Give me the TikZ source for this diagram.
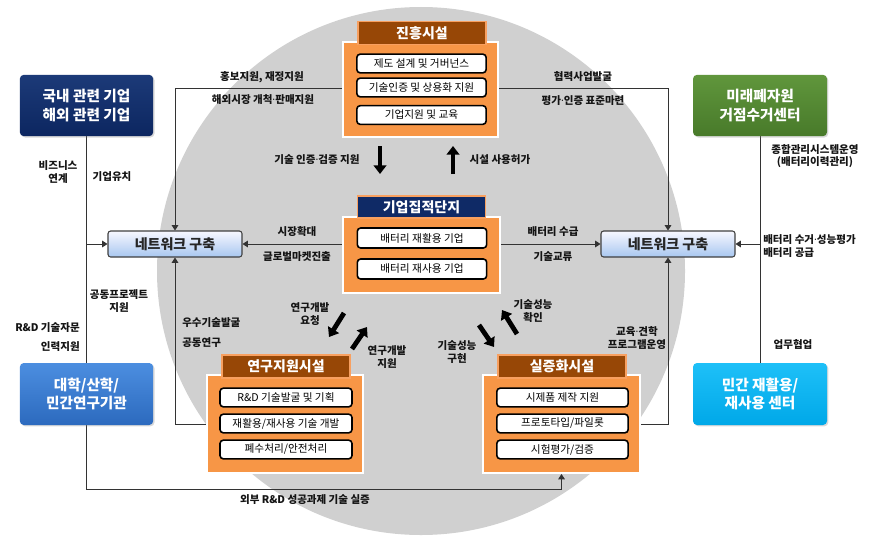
\documentclass[tikz,border=0pt]{standalone}
\usepackage{fontspec}
\setmainfont{Noto Sans CJK KR}
\newfontfamily\latinf{Noto Sans}
\newcommand{\mdot}{{\latinf\bfseries ·}}
\usetikzlibrary{arrows.meta,shadows,calc}
\definecolor{circgray}{HTML}{D0D0D0}
\definecolor{hdrbrown}{HTML}{974706}
\definecolor{hdrnavy}{HTML}{0F2A66}
\definecolor{orangef}{HTML}{F79646}
\definecolor{orangeb}{HTML}{F8A060}
\definecolor{lblc}{HTML}{141414}
\pgfdeclarelayer{bg}
\pgfdeclarelayer{lines}
\pgfsetlayers{bg,lines,main}
\tikzset{
  outerbox/.style={rounded corners=3pt, minimum width=100pt, minimum height=46pt, inner sep=0pt,
    text=white, align=center, font=\fontsize{11}{14}\selectfont\bfseries,
    drop shadow={opacity=0.3, shadow xshift=1pt, shadow yshift=-1pt}},
  netbox/.style={rounded corners=2pt, draw=black!75, line width=0.8pt, top color=blue!3, bottom color={rgb,255:red,168;green,199;blue,240},
    minimum width=100.5pt, minimum height=19.5pt, inner sep=0pt, font=\fontsize{10.5}{12}\selectfont\bfseries, text=black!85},
  hdrbox/.style={draw=orangeb, line width=1.2pt, minimum width=96pt, minimum height=17.5pt, inner sep=0pt,
    text=white, font=\fontsize{10.5}{12}\selectfont\bfseries},
  bodybox/.style={fill=orangef, draw=white, line width=1.5pt, inner sep=0pt,
    drop shadow={opacity=0.3, shadow xshift=1pt, shadow yshift=-1pt}},
  itembox/.style={fill=white, draw=black, line width=1.2pt, rounded corners=2.5pt, minimum width=97pt, minimum height=14pt,
    inner sep=0pt, font=\fontsize{8}{10}\selectfont},
  lbl/.style={font=\fontsize{7.9}{9.4}\selectfont\bfseries, text=lblc, align=center, inner sep=0pt},
  conn/.style={draw=black!80, line width=0.75pt},
  tipped/.style={conn, -{Triangle[width=5pt,length=4pt]}},
  blockarrow/.style={line width=3.6pt, draw=black, -{Triangle[width=9.5pt,length=6.5pt]}}
}
\begin{document}
\begin{tikzpicture}[x=0.75pt,y=-0.75pt]
\useasboundingbox (0,0) rectangle (873,535);
\begin{pgfonlayer}{bg}
  \fill[circgray] (421,271) circle (264);
\end{pgfonlayer}

% outer boxes
\node[outerbox, top color={rgb,255:red,28;green,58;blue,120}, bottom color={rgb,255:red,12;green,38;blue,96}] (TL) at (86.5,105.5) {국내 관련 기업\\해외 관련 기업};
\node[outerbox, top color={rgb,255:red,96;green,150;blue,60}, bottom color={rgb,255:red,72;green,122;blue,42}, minimum width=100.5pt] (G) at (760,105.5) {미래폐자원\\거점수거센터};
\node[outerbox, top color={rgb,255:red,76;green,142;blue,224}, bottom color={rgb,255:red,44;green,106;blue,190}, minimum height=46.5pt] (B) at (86.5,394) {대학/산학/\\민간연구기관};
\node[outerbox, top color={rgb,255:red,30;green,192;blue,248}, bottom color={rgb,255:red,0;green,168;blue,232}, minimum width=100.5pt, minimum height=46.5pt] (C) at (760,394) {민간 재활용/\\재사용 센터};

% network boxes
\node[netbox] (NL) at (175,244) {네트워크 구축};
\node[netbox] (NR) at (668,244) {네트워크 구축};

% 진흥시설
\node[bodybox, minimum width=116pt, minimum height=71pt] (Pb) at (420.5,89.5) {};
\node[hdrbox, fill=hdrbrown] (Ph) at (422,33) {진흥시설};
\node[itembox] (P1) at (421.5,63.5) {제도 설계 및 거버넌스};
\node[itembox] (P2) at (421.5,87.5) {기술인증 및 상용화 지원};
\node[itembox] (P3) at (421.5,115) {기업지원 및 교육};

% 기업집적단지
\node[bodybox, minimum width=117.5pt, minimum height=57pt] (Kb) at (421.5,255) {};
\node[hdrbox, fill=hdrnavy, minimum height=16.5pt] (Kh) at (421.5,207) {기업집적단지};
\node[itembox, minimum height=15pt] (K1) at (422,238) {배터리 재활용 기업};
\node[itembox, minimum height=15pt] (K2) at (422,269) {배터리 재사용 기업};

% 연구지원시설
\node[bodybox, minimum width=117pt, minimum height=73.5pt] (Rb) at (285,424) {};
\node[hdrbox, fill=hdrbrown] (Rh) at (286,366.5) {연구지원시설};
\node[itembox, minimum width=99pt] (R1) at (286,397.5) {R\&D 기술발굴 및 기획};
\node[itembox, minimum width=99pt] (R2) at (286,423.5) {재활용/재사용 기술 개발};
\node[itembox, minimum width=99pt] (R3) at (286,449.5) {폐수처리/안전처리};

% 실증화시설
\node[bodybox, minimum width=117.5pt, minimum height=73.5pt] (Sb) at (561.5,424) {};
\node[hdrbox, fill=hdrbrown] (Sh) at (562,366.5) {실증화시설};
\node[itembox, minimum width=98.5pt] (S1) at (562.5,397.5) {시제품 제작 지원};
\node[itembox, minimum width=98.5pt] (S2) at (562.5,423.5) {프로토타입/파일롯};
\node[itembox, minimum width=98.5pt] (S3) at (562.5,449.5) {시험평가/검증};

% connectors
\begin{pgfonlayer}{lines}
  \coordinate (PW) at (343,88);
  \coordinate (PE) at (498,88);
  \draw[tipped] (PW) -| (NL.north);
  \draw[tipped] (PE) -| (NR.north);
  \draw[tipped] (Kb.west |- NL.east) -- (NL.east);
  \draw[tipped] (Kb.east |- NR.west) -- (NR.west);
  \draw[tipped] (Rb.west) -| (NL.south);
  \draw[tipped] (Sb.east) -| (NR.south);
  \coordinate (BL) at (86.5,489);
  \draw[tipped] (TL.south) -- (BL) -| (Sb.south);
  \draw[tipped] (NL.west -| TL.south) -- (NL.west);
  \draw[conn] (G.south) -- (C.north);
  \draw[tipped] (NR.east -| G.south) -- (NR.east);
\end{pgfonlayer}

% block arrows
\coordinate (a1s) at (380,146); \coordinate (a1e) at (380,174);
\coordinate (a2s) at (453,174); \coordinate (a2e) at (453,146);
\coordinate (a3s) at (344,313); \coordinate (a3e) at (329,337);
\coordinate (a4s) at (352,349); \coordinate (a4e) at (367,327);
\coordinate (a5s) at (517,334); \coordinate (a5e) at (502,310);
\coordinate (a6s) at (479,325); \coordinate (a6e) at (494,347);
\draw[blockarrow] (a1s) -- (a1e);
\draw[blockarrow] (a2s) -- (a2e);
\draw[blockarrow] (a3s) -- (a3e);
\draw[blockarrow] (a4s) -- (a4e);
\draw[blockarrow] (a5s) -- (a5e);
\draw[blockarrow] (a6s) -- (a6e);

% labels
\node[lbl] (l1) at (262,77) {홍보지원, 재정지원};
\node[lbl] (l2) at (263,100) {해외시장 개척\mdot 판매지원};
\node[lbl] (l3) at (583,77) {협력사업발굴};
\node[lbl] (l4) at (583,101) {평가\mdot 인증 표준마련};
\node[lbl] (l5) at (317,160) {기술 인증\mdot 검증 지원};
\node[lbl] (l6) at (500,160) {시설 사용허가};
\node[lbl] (l7) at (297,232) {시장확대};
\node[lbl] (l8) at (297,257) {글로벌마켓진출};
\node[lbl] (l9) at (553,232) {배터리 수급};
\node[lbl] (l10) at (553,257) {기술교류};
\node[lbl] (l11) at (310,314) {연구개발\\요청};
\node[lbl] (l12) at (387,357) {연구개발\\지원};
\node[lbl] (l13) at (533,311) {기술성능\\확인};
\node[lbl] (l14) at (457,352) {기술성능\\구현};
\node[lbl] (l15) at (58,172) {비즈니스\\연계};
\node[lbl] (l16) at (112,177) {기업유치};
\node[lbl] (l17) at (119,301) {공동프로젝트\\지원};
\node[lbl, anchor=east] (l18) at (80,328) {R\&D 기술자문};
\node[lbl, anchor=east] (l19) at (80,347) {인력지원};
\node[lbl, anchor=west] (l20) at (182,323) {우수기술발굴};
\node[lbl, anchor=west] (l21) at (182,343) {공동연구};
\node[lbl] (l22) at (815,156) {종합관리시스템운영\\(배터리이력관리)};
\node[lbl, anchor=west, align=left] (l23) at (763,246) {배터리 수거\mdot 성능평가\\배터리 공급};
\node[lbl] (l24) at (793,345) {업무협업};
\node[lbl] (l25) at (637,338) {교육\mdot 견학\\프로그램운영};
\node[lbl] (l26) at (305,500) {외부 R\&D 성공과제 기술 실증};
\end{tikzpicture}
\end{document}
